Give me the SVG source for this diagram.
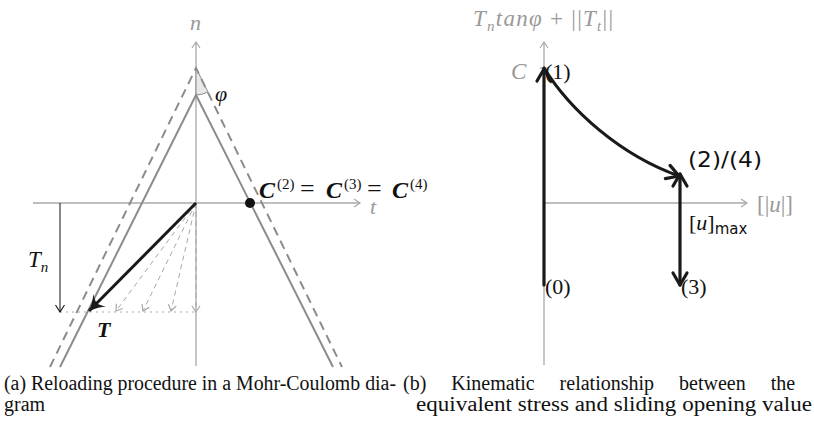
<svg xmlns="http://www.w3.org/2000/svg" width="814" height="431" viewBox="0 0 814 431">
<style>
.ax{stroke:#a8a8a8;stroke-width:1.3;fill:none}
.cone{stroke:#8c8c8c;stroke-width:2;fill:none}
.dash{stroke:#8c8c8c;stroke-width:2;fill:none;stroke-dasharray:9,6}
.ghost{stroke:#a8a8a8;stroke-width:1;fill:none;stroke-dasharray:5,4}
.thick{stroke:#1a1a1a;stroke-width:3.2;fill:none;stroke-linecap:round;stroke-linejoin:round}
.gtxt{fill:#999;font-family:"Liberation Serif",serif;font-style:italic}
.math{fill:#111;font-family:"Liberation Serif",serif;font-style:italic}
.bm{fill:#111;font-family:"Liberation Serif",serif;font-style:italic;font-weight:bold;font-size:24px}
.rm{fill:#111;font-family:"Liberation Serif",serif;font-style:normal}
.sup{fill:#111;font-family:"Liberation Serif",serif;font-size:15px}
.sans{fill:#111;font-family:"DejaVu Sans","Open Sans",sans-serif;font-style:normal}
.cap{fill:#111;font-family:"Liberation Serif",serif;font-size:20px}
</style>
<defs>
<marker id="og" markerWidth="10" markerHeight="10" refX="8" refY="5" orient="auto" markerUnits="userSpaceOnUse">
<path d="M2,1 L8,5 L2,9" fill="none" stroke="#a8a8a8" stroke-width="1.2"/>
</marker>
<marker id="ob" markerWidth="12" markerHeight="12" refX="9" refY="6" orient="auto" markerUnits="userSpaceOnUse">
<path d="M2,1.5 L9,6 L2,10.5" fill="none" stroke="#111" stroke-width="1.1"/>
</marker>
<marker id="tk" markerWidth="20" markerHeight="20" refX="15" refY="10" orient="auto" markerUnits="userSpaceOnUse">
<path d="M3,3 L15,10 L3,17" fill="none" stroke="#1a1a1a" stroke-width="3.2" stroke-linecap="round" stroke-linejoin="round"/>
</marker>
<marker id="tks" markerWidth="20" markerHeight="20" refX="5" refY="10" orient="auto" markerUnits="userSpaceOnUse">
<path d="M17,3 L5,10 L17,17" fill="none" stroke="#1a1a1a" stroke-width="3.2" stroke-linecap="round" stroke-linejoin="round"/>
</marker>
<marker id="st" markerWidth="24" markerHeight="24" refX="18" refY="12" orient="auto" markerUnits="userSpaceOnUse">
<path d="M18,12 Q8,8 3,3 Q7,10 7,12 Q7,14 3,21 Q8,16 18,12 Z" fill="#1a1a1a"/>
</marker>
</defs>

<g id="left-diagram">
<g id="axes-left">
<line class="ax" x1="33" y1="203" x2="360" y2="203" marker-end="url(#og)"/>
<line class="ax" x1="196" y1="366" x2="196" y2="42" marker-end="url(#og)"/>
<text class="gtxt" x="370" y="214" font-size="22">t</text>
<text class="gtxt" x="190" y="30" font-size="22">n</text>
</g>
<g id="phi-wedge">
<path d="M196,68 L196,95 A27,27 0 0 0 208,92 Z" fill="#e8e8e8" stroke="#8c8c8c" stroke-width="1"/>
<text class="math" x="215" y="101" font-size="22" fill="#333">φ</text>
</g>
<g id="cones">
<polyline class="dash" points="50,367 196,68 342,367"/>
<polyline class="cone" points="60,367 196,95 333,367"/>
</g>
<g id="connectors-left">
<line x1="196" y1="203" x2="196" y2="312" stroke="#a8a8a8" stroke-width="1" stroke-dasharray="5,4" marker-end="url(#og)"/>
<line class="ghost" x1="196" y1="203" x2="171" y2="311" marker-end="url(#og)"/>
<line class="ghost" x1="196" y1="203" x2="143" y2="311" marker-end="url(#og)"/>
<line class="ghost" x1="196" y1="203" x2="116" y2="311" marker-end="url(#og)"/>
<line x1="60" y1="312" x2="196" y2="312" stroke="#aaa" stroke-width="1.2" stroke-dasharray="2,4"/>
<line x1="60" y1="203" x2="60" y2="312" stroke="#111" stroke-width="1" marker-end="url(#ob)"/>
<line x1="196" y1="203" x2="89" y2="311" stroke="#1a1a1a" stroke-width="3" marker-end="url(#st)"/>
</g>
<g id="point-C">
<circle cx="250" cy="203" r="5" fill="#111"/>
<text y="198"><tspan class="bm" x="259">C</tspan><tspan class="sup" x="277" y="189">(2)</tspan><tspan class="rm" font-size="26" x="300" y="197">=</tspan><tspan class="bm" x="326" y="198">C</tspan><tspan class="sup" x="344" y="189">(3)</tspan><tspan class="rm" font-size="26" x="367" y="197">=</tspan><tspan class="bm" x="392" y="198">C</tspan><tspan class="sup" x="410" y="189">(4)</tspan></text>
</g>
<text class="math" x="28" y="267" font-size="23">T<tspan font-size="15" dy="5">n</tspan></text>
<text class="math" x="97" y="337" font-size="22" font-weight="bold">T</text>
</g>

<g id="right-diagram">
<g id="axes-right">
<line class="ax" x1="544" y1="365" x2="544" y2="42" marker-end="url(#og)"/>
<line class="ax" x1="544" y1="203" x2="747" y2="203" marker-end="url(#og)"/>
<line x1="540" y1="68" x2="548" y2="68" stroke="#999" stroke-width="1.2"/>
<text class="gtxt" x="473" y="26" font-size="23" textLength="140" lengthAdjust="spacing">T<tspan font-size="15" dy="5">n</tspan><tspan dy="-5">tanφ </tspan><tspan font-style="normal">+ ||</tspan>T<tspan font-size="15" dy="5">t</tspan><tspan dy="-5" font-style="normal">||</tspan></text>
<text class="gtxt" x="511" y="79" font-size="23">C</text>
<text class="gtxt" x="757" y="212" font-size="23"><tspan font-style="normal">[|</tspan>u<tspan font-style="normal">|]</tspan></text>
</g>
<g id="connectors-right">
<line class="thick" x1="544" y1="285" x2="544" y2="69" marker-end="url(#tk)"/>
<path class="thick" d="M544,68 C570,110 620,155 679,176" marker-end="url(#tk)"/>
<line class="thick" x1="680" y1="174" x2="680" y2="285" marker-start="url(#tks)" marker-end="url(#tk)"/>
</g>
<g id="labels-right">
<text class="rm" x="545" y="79" font-size="22">(1)</text>
<text class="rm" x="545" y="294" font-size="22">(0)</text>
<text class="rm" x="681" y="294" font-size="22">(3)</text>
<text class="sans" x="688" y="167" font-size="22" textLength="74" lengthAdjust="spacingAndGlyphs">(2)/(4)</text>
<text class="math" x="689" y="230" font-size="22"><tspan class="rm">[</tspan>u<tspan class="rm">]</tspan><tspan class="sans" font-size="15" dy="4">max</tspan></text>
</g>
</g>

<g id="captions">
<text class="cap" x="4" y="390" textLength="392" lengthAdjust="spacingAndGlyphs">(a) Reloading procedure in a Mohr-Coulomb dia-</text>
<text class="cap" x="4" y="411">gram</text>
<text class="cap" x="403" y="390" font-size="21" word-spacing="20">(b) Kinematic relationship between the</text>
<text class="cap" x="416" y="411" textLength="396" lengthAdjust="spacingAndGlyphs">equivalent stress and sliding opening value</text>
</g>
</svg>
